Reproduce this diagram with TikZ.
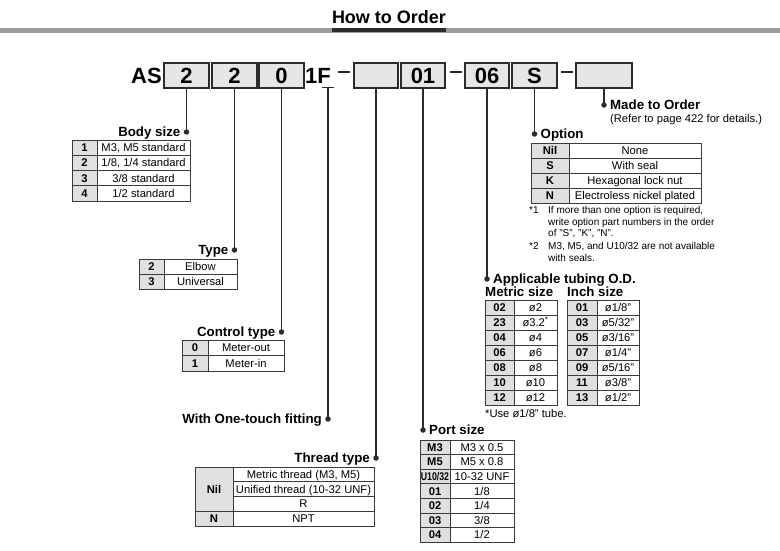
\documentclass[tikz,border=0pt]{standalone}
\usepackage{fontspec}
\setmainfont{Liberation Sans}
\usepackage{graphicx}
\usetikzlibrary{positioning}
\definecolor{ink}{HTML}{2B2B2B}
\definecolor{rulegray}{HTML}{9C9C9C}
\definecolor{boxfill}{HTML}{E6E6E6}
\definecolor{idxfill}{HTML}{E0E0E0}
\definecolor{grid}{HTML}{3A3A3A}

% #1 name, #2 left, #3 divider, #4 right, #5 top, #6 row height, #7 rows key/value
\newcommand{\codetable}[7]{%
  \foreach \k/\v [count=\i] in {#7}{%
    \path[tcell,fill=idxfill] (#2,{#5+(\i-1)*#6}) rectangle (#3,{#5+\i*#6});
    \path[tcell] (#3,{#5+(\i-1)*#6}) rectangle (#4,{#5+\i*#6});
    \node[idxtext] (#1-k\i) at ({(#2+#3)/2},{#5+(\i-0.5)*#6}) {\k};
    \node[celltext] (#1-v\i) at ({(#3+#4)/2},{#5+(\i-0.5)*#6}) {\v};
  }%
}

\begin{document}
\begin{tikzpicture}[x=1pt,y=-1pt,
  codefont/.style={font=\fontsize{22}{24}\selectfont\bfseries,inner sep=0pt,text height=15.8pt,text depth=0pt},
  codebox/.style={codefont,draw=ink,line width=1.3pt,fill=boxfill,minimum height=25pt},
  dot/.style={circle,fill=ink,inner sep=0pt,minimum size=5.5pt},
  leader/.style={draw=ink,line width=1.4pt},
  lbl/.style={font=\fontsize{13.3}{15}\selectfont\bfseries,inner sep=0pt,text height=9.5pt,text depth=0pt},
  tcell/.style={draw=grid,line width=0.8pt},
  idxtext/.style={font=\fontsize{11.2}{13}\selectfont\bfseries,inner sep=0pt,text height=8pt,text depth=0pt},
  celltext/.style={font=\fontsize{11.2}{13}\selectfont,inner sep=0pt,text height=8pt,text depth=0pt},
  notetext/.style={font=\fontsize{10}{12}\selectfont,inner sep=0pt,text height=7.2pt,text depth=0pt,anchor=west}]
  \useasboundingbox (0,0) rectangle (780,551);

  % title and rule
  \node[font=\fontsize{18}{20}\selectfont\bfseries,inner sep=0pt,text height=13pt,text depth=0pt] (title) at (389,17) {How to Order};
  \fill[rulegray] (0,28) rectangle (780,33.5);
  \fill[ink] (title.south west |- 0,28) rectangle (title.south east |- 0,32.5);

  % part number
  \node[codefont,anchor=east] (as) at (162,75.5) {AS};
  \node[codebox,minimum width=45pt] (b1) at (186.5,75.5) {2};
  \node[codebox,minimum width=45pt] (b2) at (234.5,75.5) {2};
  \node[codebox,minimum width=45pt] (b3) at (281.5,75.5) {0};
  \node[codefont] (onef) at (318,75.5) {1F};
  \node[codebox,minimum width=44pt] (b4) at (376,75.5) {};
  \node[codebox,minimum width=44pt] (b5) at (423,75.5) {01};
  \node[codebox,minimum width=44pt] (b6) at (487,75.5) {06};
  \node[codebox,minimum width=45pt] (b7) at (534.5,75.5) {S};
  \node[codebox,minimum width=56pt] (b8) at (604,75.5) {};
  \foreach \xa/\xb in {338/350,450/462,561/573}
    \draw[ink,line width=2.4pt] (\xa,72) -- (\xb,72);

  % dots and leaders
  \coordinate (ftop) at (328,87.5);
  \node[dot] (d1) at (b1.south |- 0,132) {};
  \node[dot] (d2) at (b2.south |- 0,250) {};
  \node[dot] (d3) at (b3.south |- 0,332) {};
  \node[dot] (d4) at (ftop |- 0,419) {};
  \node[dot] (d5) at (b4.south |- 0,458) {};
  \node[dot] (d6) at (b5.south |- 0,430) {};
  \node[dot] (d7) at (b6.south |- 0,279) {};
  \node[dot] (d8) at (b7.south |- 0,134) {};
  \node[dot] (d9) at (b8.south |- 0,105) {};
  \foreach \a/\b in {b1/d1,b2/d2,b3/d3,b4/d5,b5/d6,b6/d7,b7/d8,b8/d9}
    \draw[leader] (\a.south) -- (\b.center);
  \draw[leader] (ftop) -- (d4.center);
  \draw[leader] ([xshift=-6pt]ftop) -- ([xshift=6pt]ftop);

  % labels
  \node[lbl,left=3pt of d1] (bslbl) {Body size};
  \node[lbl,left=3pt of d2] (tylbl) {Type};
  \node[lbl,left=3pt of d3] (ctlbl) {Control type};
  \node[lbl,left=3pt of d4] (otlbl) {With One-touch fitting};
  \node[lbl,left=3pt of d5] (ttlbl) {Thread type};
  \node[lbl,right=3pt of d6] (pslbl) {Port size};
  \node[lbl,right=3pt of d7] (tblbl) {Applicable tubing O.D.};
  \node[lbl,right=3pt of d8] (oplbl) {Option};
  \node[lbl,right=3pt of d9] (mtolbl) {Made to Order};
  \node[celltext,anchor=west] (mtoref) at (mtolbl.west |- 0,119) {(Refer to page 422 for details.)};
  \node[lbl,anchor=west] (metlbl) at (485,292) {Metric size};
  \node[lbl,anchor=west] (inchlbl) at (567,292) {Inch size};

  % tables
  \codetable{bs}{72}{97}{190}{140}{15.25}{1/{M3, M5 standard},2/{1/8, 1/4 standard},3/{3/8 standard},4/{1/2 standard}}
  \codetable{ty}{139}{164}{237}{259}{15}{2/Elbow,3/Universal}
  \codetable{ct}{182}{208}{284}{340}{15.5}{0/Meter-out,1/Meter-in}
  \codetable{op}{531}{569}{701}{143}{15}{Nil/None,S/{With seal},K/{Hexagonal lock nut},N/{Electroless nickel plated}}
  \codetable{mt}{485}{514}{557}{300}{15}{02/ø2,23/{ø3.2\textsuperscript{*}},04/ø4,06/ø6,08/ø8,10/ø10,12/ø12}
  \codetable{ic}{567}{597}{639}{300}{15}{01/{ø1/8"},03/{ø5/32"},05/{ø3/16"},07/{ø1/4"},09/{ø5/16"},11/{ø3/8"},13/{ø1/2"}}
  \codetable{ps}{420}{450}{514}{440}{14.6}{M3/{M3 x 0.5},M5/{M5 x 0.8},{\scalebox{0.78}[1]{U10/32}}/{10-32 UNF},01/{1/8},02/{1/4},03/{3/8},04/{1/2}}

  % thread type table
  \path[tcell,fill=idxfill] (195,467) rectangle (233,511.25);
  \path[tcell,fill=idxfill] (195,511.25) rectangle (233,526);
  \foreach \v [count=\i] in {{Metric thread (M3, M5)},{Unified thread (10-32 UNF)},R,NPT}{
    \path[tcell] (233,{467+(\i-1)*14.75}) rectangle (374,{467+\i*14.75});
    \node[celltext] (tt-v\i) at (303.5,{467+(\i-0.5)*14.75}) {\v};
  }
  \node[idxtext] (tt-k1) at (214,489.1) {Nil};
  \node[idxtext] (tt-k2) at (214,518.6) {N};

  % notes
  \node[notetext] (n1) at (529,210) {*1};
  \node[notetext] (n2) at (529,246) {*2};
  \foreach \t/\y [count=\i] in {{If more than one option is required,}/210,{write option part numbers in the order}/221.5,{of "S", "K", "N".}/233,{M3, M5, and U10/32 are not available}/246,{with seals.}/257.5}
    \node[notetext] (nt\i) at (548,\y) {\t};
  \node[celltext,anchor=west] (tubenote) at (485,413) {*Use ø1/8" tube.};
\end{tikzpicture}
\end{document}
